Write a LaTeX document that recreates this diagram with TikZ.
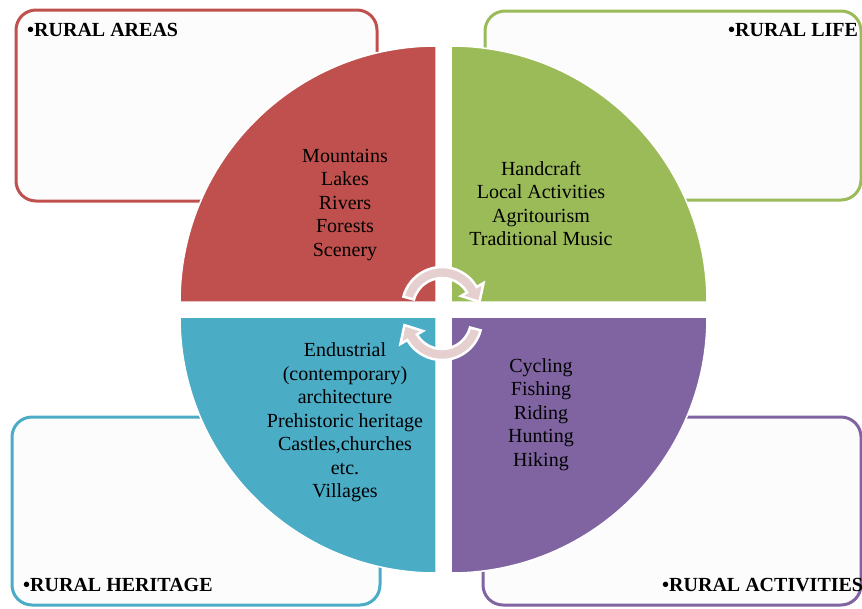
\documentclass[tikz,border=0pt]{standalone}
\usepackage{fontspec}
\setmainfont{Liberation Serif}
\usetikzlibrary{calc}
\definecolor{areas}{HTML}{C0504D}
\definecolor{life}{HTML}{9BBB59}
\definecolor{heritage}{HTML}{4BACC6}
\definecolor{activities}{HTML}{8064A2}
\definecolor{panelfill}{HTML}{FCFCFC}
\definecolor{cyclepink}{HTML}{E6CFCF}

\begin{document}
\begin{tikzpicture}[x=1pt, y=-1pt,
  panel/.style={draw=#1, line width=3pt, rounded corners=20pt, fill=panelfill},
  quarter/.style={fill=#1, draw=white, line width=1.5pt},
  body/.style={align=center, font=\fontsize{20}{23.5}\selectfont, inner sep=0pt},
  title/.style={anchor=base west, font=\fontsize{20}{24}\selectfont\bfseries, inner sep=0pt},
  cyclearrow/.style={fill=cyclepink, draw=white, line width=2.5pt}]
  \useasboundingbox (0,0) rectangle (862,608);
  \clip (0,0) rectangle (862,608);
  % Corner panels
  \draw[panel=areas] (16,10) rectangle (377,201);
  \draw[panel=life] (485,11) rectangle (861,200);
  \draw[panel=heritage] (12,417) rectangle (380,605);
  \draw[panel=activities] (483,417) rectangle (861,605);
  % Quarter discs
  \draw[quarter=areas] (436,302) -- (180,302)
    arc[start angle=180, end angle=270, radius=256] -- cycle;
  \draw[quarter=life] (451,302) -- (451,46)
    arc[start angle=270, end angle=360, radius=256] -- cycle;
  \draw[quarter=heritage] (436,317) -- (436,573)
    arc[start angle=90, end angle=180, radius=256] -- cycle;
  \draw[quarter=activities] (451,317) -- (707,317)
    arc[start angle=0, end angle=90, radius=256] -- cycle;
  % Quarter texts
  \node[body] (areas-txt) at (345,205)
    {Mountains\\Lakes\\Rivers\\Forests\\Scenery};
  \node[body] (life-txt) at (541,203.5)
    {Handcraft\\Local Activities\\Agritourism\\Traditional Music};
  \node[body] (heritage-txt) at (345,422.5)
    {Endustrial\\(contemporary)\\architecture\\Prehistoric heritage\\Castles,churches\\etc.\\Villages};
  \node[body] (activities-txt) at (541,414.5)
    {Cycling\\Fishing\\Riding\\Hunting\\Hiking};
  % Cycle arrows
  \begin{scope}[shift={(442,307)}]
    \draw[cyclearrow] (195:29) arc[start angle=195, end angle=330, radius=29]
      -- (330:22) -- (37.5,-5.1) -- (330:48) -- (330:40)
      arc[start angle=330, end angle=195, radius=40] -- cycle;
  \end{scope}
  \begin{scope}[shift={(442,320)}]
    \draw[cyclearrow] (15:29) arc[start angle=15, end angle=150, radius=29]
      -- (150:22) -- (-37.5,5.1) -- (150:48) -- (150:40)
      arc[start angle=150, end angle=15, radius=40] -- cycle;
  \end{scope}
  % Panel titles
  \node[title] (areas-lbl) at (27,36) {•RURAL AREAS};
  \node[title] (life-lbl) at (728,36) {•RURAL LIFE};
  \node[title] (heritage-lbl) at (23,591) {•RURAL HERITAGE};
  \node[title] (activities-lbl) at (662,591) {•RURAL ACTIVITIES};
\end{tikzpicture}
\end{document}
